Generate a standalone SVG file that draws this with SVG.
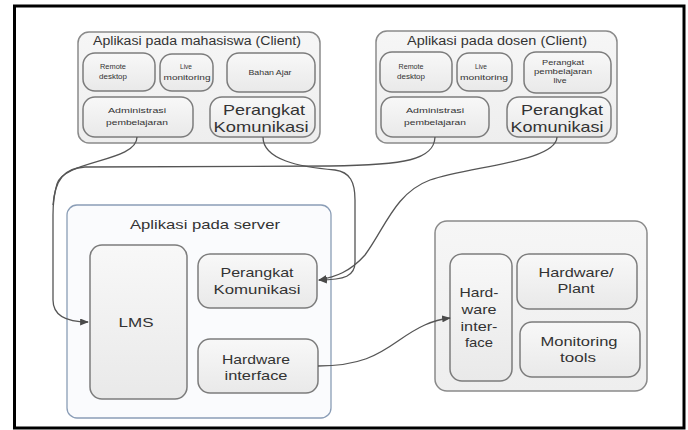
<svg xmlns="http://www.w3.org/2000/svg" width="688" height="430" viewBox="0 0 688 430">
<defs>
<linearGradient id="ng" x1="0" y1="0" x2="0" y2="1">
<stop offset="0" stop-color="#f8f8f8"/>
<stop offset="1" stop-color="#e9e9e9"/>
</linearGradient>
<linearGradient id="cg" x1="0" y1="0" x2="0" y2="1">
<stop offset="0" stop-color="#f6f6f6"/>
<stop offset="1" stop-color="#eeeeee"/>
</linearGradient>
<marker id="arr" viewBox="0 0 10 8" refX="9" refY="4" markerWidth="9" markerHeight="7" markerUnits="userSpaceOnUse" orient="auto">
<path d="M0,0 L10,4 L0,8 z" fill="#4a4a4a"/>
</marker>
<style>
text{font-family:"Liberation Sans",Arial,sans-serif;fill:#333;text-anchor:middle}
.s{font-size:7px}
.m{font-size:13px}
.t{font-size:12px}
.node{fill:url(#ng);stroke:#7c7c7c;stroke-width:1.5}
.cont{fill:url(#cg);stroke:#8a8a8a;stroke-width:1.5}
.srv{fill:#fafbfd;stroke:#8a9db6;stroke-width:1.3}
.con{fill:none;stroke:#555;stroke-width:1.3}
</style>
</defs>
<rect x="14.5" y="6" width="669.5" height="422" fill="#fff" stroke="#000" stroke-width="3"/>

<g id="client-mahasiswa">
<rect class="cont" x="78" y="32" width="242" height="111" rx="11"/>
<text class="t" x="197" y="45" textLength="208" lengthAdjust="spacingAndGlyphs">Aplikasi pada mahasiswa (Client)</text>
</g>
<g id="m-remote">
<rect class="node" x="83" y="53" width="72" height="38" rx="12"/>
<text class="s" x="113" y="68.5" textLength="26" lengthAdjust="spacingAndGlyphs">Remote</text>
<text class="s" x="113" y="78.5" textLength="28" lengthAdjust="spacingAndGlyphs">desktop</text>
</g>
<g id="m-live">
<rect class="node" x="160" y="54" width="53" height="37" rx="12"/>
<text class="s" x="186" y="68.5" textLength="12" lengthAdjust="spacingAndGlyphs">Live</text>
<text class="s" x="187" y="79.5" textLength="47" lengthAdjust="spacingAndGlyphs">monitoring</text>
</g>
<g id="m-bahan">
<rect class="node" x="227" y="53" width="88" height="39" rx="12"/>
<text class="s" x="270" y="74.5" textLength="43" lengthAdjust="spacingAndGlyphs">Bahan Ajar</text>
</g>
<g id="m-admin">
<rect class="node" x="83" y="97" width="110" height="40" rx="12"/>
<text class="s" x="137" y="112.5" textLength="58" lengthAdjust="spacingAndGlyphs">Administrasi</text>
<text class="s" x="137" y="124.5" textLength="62" lengthAdjust="spacingAndGlyphs">pembelajaran</text>
</g>
<g id="m-komunikasi">
<rect class="node" x="210" y="97" width="105" height="40" rx="12"/>
<text x="264" y="115" style="font-size:15px" textLength="82" lengthAdjust="spacingAndGlyphs">Perangkat</text>
<text x="261" y="132" style="font-size:15px" textLength="95" lengthAdjust="spacingAndGlyphs">Komunikasi</text>
</g>

<g id="client-dosen">
<rect class="cont" x="376" y="31" width="241" height="112" rx="11"/>
<text class="t" x="497" y="45" textLength="180" lengthAdjust="spacingAndGlyphs">Aplikasi pada dosen (Client)</text>
</g>
<g id="d-remote">
<rect class="node" x="380" y="52" width="72" height="40" rx="12"/>
<text class="s" x="411" y="68.5" textLength="25" lengthAdjust="spacingAndGlyphs">Remote</text>
<text class="s" x="411" y="78.5" textLength="28" lengthAdjust="spacingAndGlyphs">desktop</text>
</g>
<g id="d-live">
<rect class="node" x="457" y="53" width="55" height="38" rx="12"/>
<text class="s" x="481" y="68.5" textLength="12" lengthAdjust="spacingAndGlyphs">Live</text>
<text class="s" x="484" y="79.5" textLength="48" lengthAdjust="spacingAndGlyphs">monitoring</text>
</g>
<g id="d-pembelajaran-live">
<rect class="node" x="524" y="52" width="87" height="41" rx="12"/>
<text class="s" x="563" y="64.5" textLength="42" lengthAdjust="spacingAndGlyphs">Perangkat</text>
<text class="s" x="563" y="73.5" textLength="58" lengthAdjust="spacingAndGlyphs">pembelajaran</text>
<text class="s" x="560" y="82.5" textLength="13" lengthAdjust="spacingAndGlyphs">live</text>
</g>
<g id="d-admin">
<rect class="node" x="381" y="97" width="108" height="40" rx="12"/>
<text class="s" x="435" y="112.5" textLength="58" lengthAdjust="spacingAndGlyphs">Administrasi</text>
<text class="s" x="435" y="124.5" textLength="62" lengthAdjust="spacingAndGlyphs">pembelajaran</text>
</g>
<g id="d-komunikasi">
<rect class="node" x="507" y="97" width="104" height="40" rx="12"/>
<text x="562" y="115" style="font-size:15px" textLength="82" lengthAdjust="spacingAndGlyphs">Perangkat</text>
<text x="557" y="132" style="font-size:15px" textLength="93" lengthAdjust="spacingAndGlyphs">Komunikasi</text>
</g>

<g id="server">
<rect class="srv" x="67" y="205" width="264" height="213" rx="10"/>
<text class="m" x="205" y="229" textLength="150" lengthAdjust="spacingAndGlyphs">Aplikasi pada server</text>
</g>
<g id="s-lms">
<rect class="node" x="90" y="245" width="97" height="154" rx="12"/>
<text class="m" x="136" y="327" textLength="35" lengthAdjust="spacingAndGlyphs">LMS</text>
</g>
<g id="s-komunikasi">
<rect class="node" x="198" y="254" width="119" height="54" rx="12"/>
<text class="m" x="257" y="277" textLength="73" lengthAdjust="spacingAndGlyphs">Perangkat</text>
<text class="m" x="257" y="294" textLength="87" lengthAdjust="spacingAndGlyphs">Komunikasi</text>
</g>
<g id="s-hardware-interface">
<rect class="node" x="198" y="339" width="120" height="54" rx="12"/>
<text class="m" x="256" y="364" textLength="68" lengthAdjust="spacingAndGlyphs">Hardware</text>
<text class="m" x="256" y="380" textLength="63" lengthAdjust="spacingAndGlyphs">interface</text>
</g>

<g id="plant">
<rect class="cont" x="435" y="221" width="212" height="170" rx="12"/>
</g>
<g id="p-hardware-interface">
<rect class="node" x="450" y="254" width="62" height="127" rx="12"/>
<text class="m" x="479" y="297" textLength="39" lengthAdjust="spacingAndGlyphs">Hard-</text>
<text class="m" x="479" y="314" textLength="35" lengthAdjust="spacingAndGlyphs">ware</text>
<text class="m" x="479" y="331" textLength="37" lengthAdjust="spacingAndGlyphs">inter-</text>
<text class="m" x="479" y="347" textLength="28" lengthAdjust="spacingAndGlyphs">face</text>
</g>
<g id="p-hardware-plant">
<rect class="node" x="517" y="254" width="120" height="55" rx="12"/>
<text class="m" x="576" y="277" textLength="75" lengthAdjust="spacingAndGlyphs">Hardware/</text>
<text class="m" x="576" y="293" textLength="37" lengthAdjust="spacingAndGlyphs">Plant</text>
</g>
<g id="p-monitoring">
<rect class="node" x="520" y="322" width="120" height="55" rx="12"/>
<text class="m" x="579" y="346" textLength="77" lengthAdjust="spacingAndGlyphs">Monitoring</text>
<text class="m" x="578" y="362" textLength="36" lengthAdjust="spacingAndGlyphs">tools</text>
</g>

<g id="connectors">
<path class="con" d="M137,137 C137,162 64,160 57,184 C54,194 53,205 53,215 L53,300 Q53,322 88,322" marker-end="url(#arr)"/>
<path class="con" d="M435,137 C434,160 405,165 330,166 L85,167 C64,168 55,180 53,205"/>
<path class="con" d="M263,137 C263,160 300,167 335,170 C350,172 355,182 355,200 L355,262 C355,276 345,280 319,280" marker-end="url(#arr)"/>
<path class="con" d="M557,137 C556,162 470,166 430,180 C395,193 385,228 365,255 C350,272 335,277 319,280" marker-end="url(#arr)"/>
<path class="con" d="M318,366 C360,366 378,355 398,341 C418,327 432,320 450,318" marker-end="url(#arr)"/>
</g>
</svg>
